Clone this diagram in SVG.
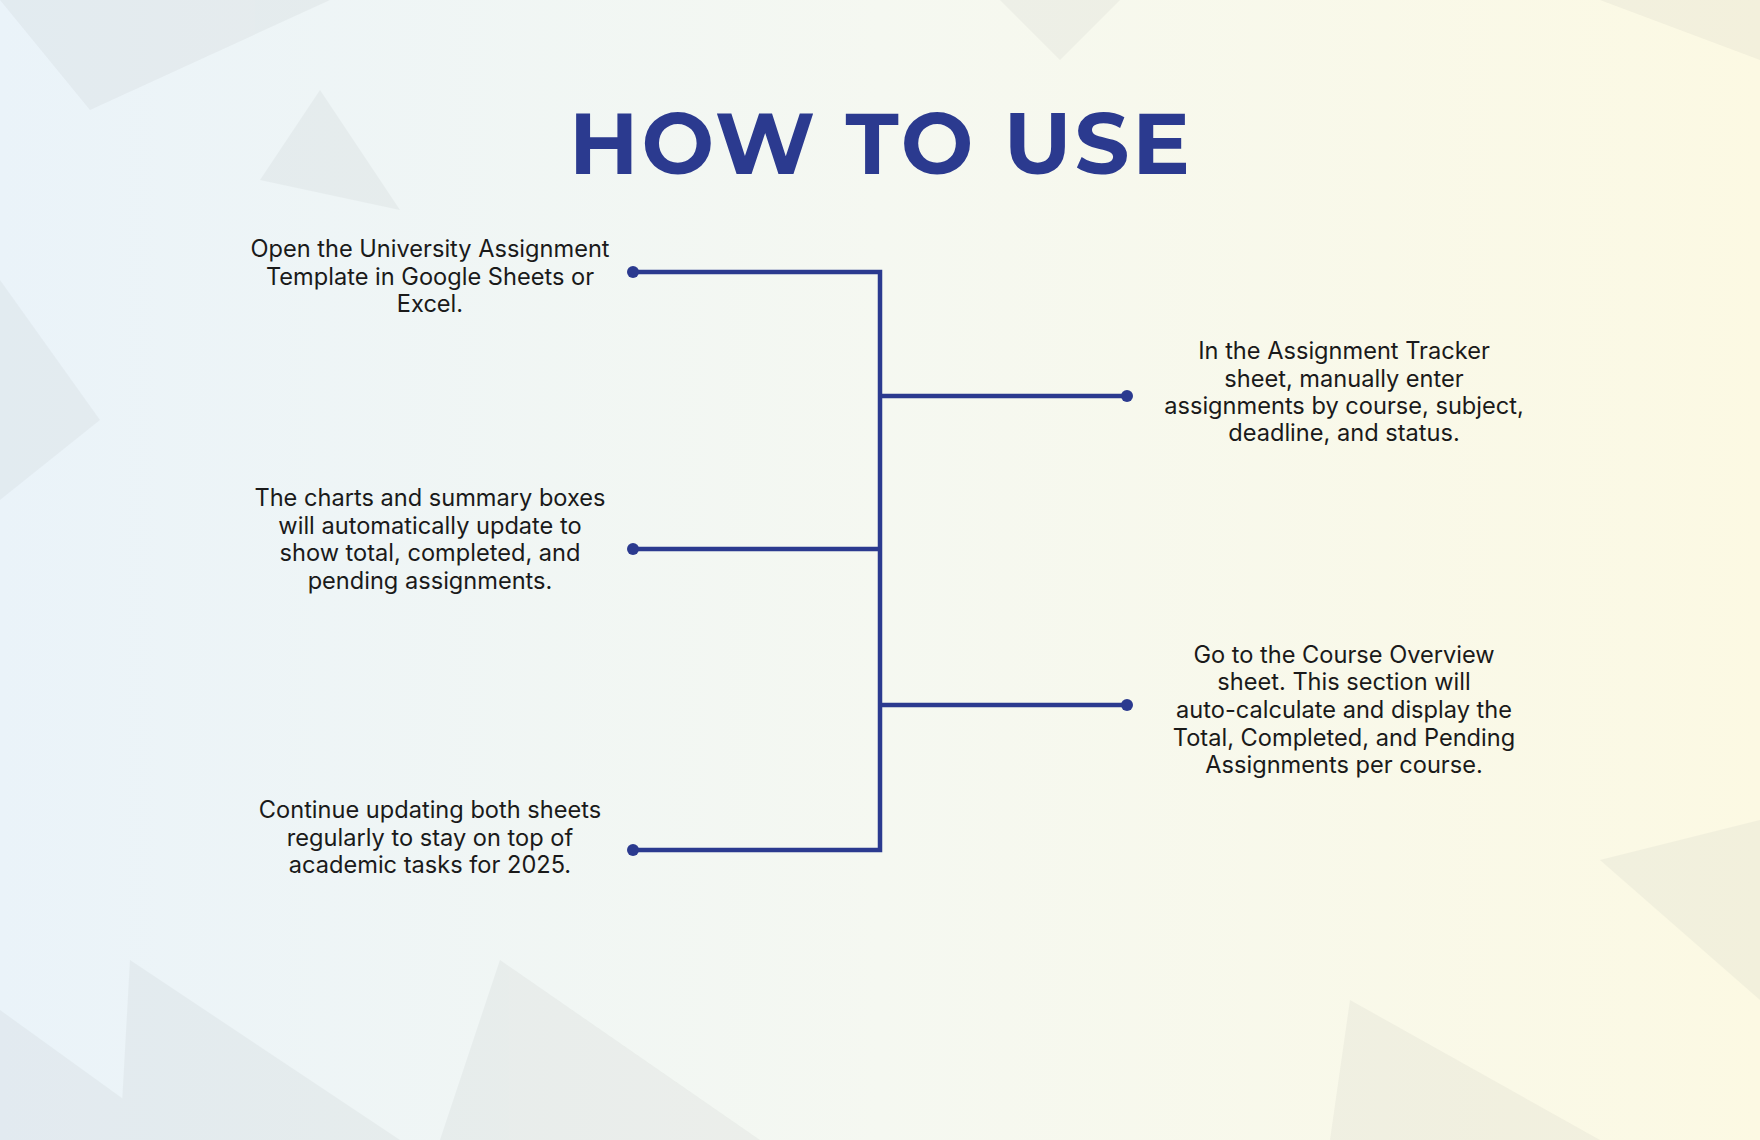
<svg xmlns="http://www.w3.org/2000/svg" width="1760" height="1140" viewBox="0 0 1760 1140">
<defs>
<linearGradient id="bg" x1="0" y1="0" x2="1" y2="0">
<stop offset="0" stop-color="#eaf3f9"/><stop offset="0.5" stop-color="#f5f8f1"/><stop offset="1" stop-color="#fcf9e3"/>
</linearGradient>
<style>
.t{font-family:Inter,"Liberation Sans",sans-serif;font-size:23.6px;fill:#1a1a1a;text-anchor:middle}
.ln{stroke:#2b3a8f;stroke-width:4.5;fill:none}
.dot{fill:#2b3a8f}
.poly{fill:#8a9090}
</style>
</defs>
<rect width="1760" height="1140" fill="url(#bg)"/>
<g opacity="0.08">
<polygon class="poly" points="0,0 330,0 90,110"/>
<polygon class="poly" points="1000,0 1120,0 1060,60"/>
<polygon class="poly" points="1600,0 1760,0 1760,60"/>
<polygon class="poly" points="0,280 100,420 0,500"/>
<polygon class="poly" points="130,960 400,1140 120,1140"/>
<polygon class="poly" points="0,1010 180,1140 0,1140"/>
<polygon class="poly" points="500,960 760,1140 440,1140"/>
<polygon class="poly" points="1350,1000 1600,1140 1330,1140"/>
<polygon class="poly" points="1600,860 1760,820 1760,1000"/>
<polygon class="poly" points="320,90 400,210 260,180"/>
</g>
<text x="881" y="174" font-family="Montserrat,'Open Sans','Liberation Sans',sans-serif" font-weight="700" font-size="86" fill="#2b3a8f" text-anchor="middle" letter-spacing="3">HOW TO USE</text>
<g id="connectors">
<path class="ln" d="M633,272 H880 V850 H633 M880,549 H633 M880,396 H1127 M880,705 H1127"/>
<circle class="dot" cx="633" cy="272" r="6"/>
<circle class="dot" cx="633" cy="549" r="6"/>
<circle class="dot" cx="633" cy="850" r="6"/>
<circle class="dot" cx="1127" cy="396" r="6"/>
<circle class="dot" cx="1127" cy="705" r="6"/>
</g>
<g id="step1"><text class="t"><tspan x="430" y="257">Open the University Assignment</tspan><tspan x="430" y="285">Template in Google Sheets or</tspan><tspan x="430" y="312">Excel.</tspan></text></g>
<g id="step2"><text class="t"><tspan x="1344" y="359">In the Assignment Tracker</tspan><tspan x="1344" y="387">sheet, manually enter</tspan><tspan x="1344" y="414">assignments by course, subject,</tspan><tspan x="1344" y="441">deadline, and status.</tspan></text></g>
<g id="step3"><text class="t"><tspan x="430" y="506">The charts and summary boxes</tspan><tspan x="430" y="534">will automatically update to</tspan><tspan x="430" y="561">show total, completed, and</tspan><tspan x="430" y="589">pending assignments.</tspan></text></g>
<g id="step4"><text class="t"><tspan x="1344" y="663">Go to the Course Overview</tspan><tspan x="1344" y="690">sheet. This section will</tspan><tspan x="1344" y="718">auto-calculate and display the</tspan><tspan x="1344" y="746">Total, Completed, and Pending</tspan><tspan x="1344" y="773">Assignments per course.</tspan></text></g>
<g id="step5"><text class="t"><tspan x="430" y="818">Continue updating both sheets</tspan><tspan x="430" y="846">regularly to stay on top of</tspan><tspan x="430" y="873">academic tasks for 2025.</tspan></text></g>
</svg>
